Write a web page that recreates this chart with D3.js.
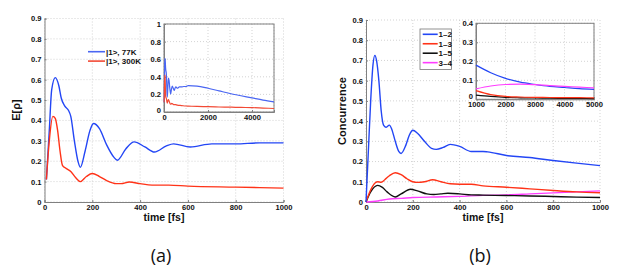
<!DOCTYPE html>
<html>
<head>
<meta charset="utf-8">
<script src="https://cdn.jsdelivr.net/npm/d3@7"></script>
<style>
body { margin: 0; background: #fff; }
svg text { font-family: "Liberation Sans", Arial, sans-serif; }
.tick text { font-weight: bold; font-size: 7.6px; fill: #111; }
</style>
</head>
<body>
<svg id="chart" width="620" height="273"></svg>
<script>
// panel (a): E[rho] vs time
const timeA = [8, 20, 30, 45, 60, 70, 85, 100, 110, 125, 140, 150, 170, 190, 205, 230, 260, 290, 305, 340, 375, 420, 460, 510, 540, 610, 700, 800, 900, 1000];
const blueA = [0.11, 0.35, 0.55, 0.61, 0.57, 0.51, 0.47, 0.45, 0.42, 0.30, 0.20, 0.17, 0.25, 0.35, 0.385, 0.36, 0.28, 0.22, 0.205, 0.26, 0.295, 0.27, 0.245, 0.275, 0.285, 0.27, 0.285, 0.285, 0.29, 0.29];
const timeA2 = [8, 20, 35, 45, 55, 65, 75, 90, 110, 130, 150, 175, 200, 230, 260, 300, 320, 355, 400, 450, 520, 600, 800, 1000];
const redA = [0.11, 0.30, 0.42, 0.41, 0.35, 0.25, 0.18, 0.165, 0.15, 0.12, 0.10, 0.125, 0.14, 0.125, 0.105, 0.09, 0.09, 0.098, 0.09, 0.083, 0.083, 0.078, 0.073, 0.068];
// inset (a) continuation past 1000 fs
const tailTimeA = [1100, 1500, 2000, 2500, 3000, 3500, 4000, 4500, 5000];
const tailBlueA = [0.30, 0.295, 0.27, 0.24, 0.21, 0.185, 0.16, 0.135, 0.115];
const tailRedA = [0.067, 0.063, 0.06, 0.057, 0.055, 0.052, 0.05, 0.045, 0.04];
const legendA = ["|1>, 77K", "|1>, 300K"];

// panel (b): concurrence vs time
const timeB = [0, 10, 20, 30, 38, 45, 55, 65, 75, 85, 100, 110, 125, 140, 150, 170, 185, 200, 220, 250, 280, 300, 330, 360, 400, 450, 500, 520, 600, 700, 800, 900, 1000];
const pair12 = [0, 0.25, 0.5, 0.68, 0.725, 0.70, 0.60, 0.45, 0.38, 0.37, 0.38, 0.36, 0.30, 0.25, 0.24, 0.28, 0.33, 0.355, 0.34, 0.30, 0.265, 0.26, 0.27, 0.285, 0.275, 0.25, 0.25, 0.248, 0.23, 0.22, 0.205, 0.192, 0.18];
const timeB13 = [0, 20, 40, 50, 65, 80, 100, 125, 150, 175, 200, 220, 250, 285, 320, 360, 400, 450, 500, 600, 700, 800, 900, 1000];
const pair13 = [0, 0.06, 0.095, 0.10, 0.098, 0.11, 0.13, 0.145, 0.135, 0.115, 0.10, 0.097, 0.10, 0.11, 0.10, 0.09, 0.088, 0.088, 0.08, 0.073, 0.065, 0.057, 0.05, 0.046];
const timeB15 = [0, 20, 50, 70, 90, 125, 150, 190, 220, 260, 290, 320, 350, 400, 450, 500, 600, 700, 800, 900, 1000];
const pair15 = [0, 0.05, 0.082, 0.072, 0.05, 0.025, 0.04, 0.063, 0.055, 0.04, 0.037, 0.04, 0.043, 0.04, 0.035, 0.034, 0.032, 0.03, 0.027, 0.024, 0.022];
const timeB34 = [0, 50, 100, 150, 200, 300, 400, 500, 600, 700, 800, 900, 1000];
const pair34 = [0, 0.005, 0.015, 0.018, 0.022, 0.025, 0.028, 0.033, 0.035, 0.04, 0.045, 0.05, 0.055];
// inset (b): 1000..5000 fs
const timeInsetB = [1000, 1500, 2000, 2500, 3000, 3500, 4000, 4500, 5000];
const inset12 = [0.18, 0.14, 0.11, 0.09, 0.078, 0.068, 0.062, 0.056, 0.052];
const inset13 = [0.046, 0.025, 0.015, 0.012, 0.01, 0.0095, 0.009, 0.0085, 0.008];
const inset15 = [0.022, 0.015, 0.01, 0.008, 0.007, 0.006, 0.005, 0.0045, 0.004];
const inset34 = [0.055, 0.07, 0.078, 0.08, 0.077, 0.072, 0.068, 0.064, 0.06];
const legendB = ["1\u20132", "1\u20133", "1\u20135", "3\u20134"];

const BLUE = "#2346f5", RED = "#ff3318", BLACK = "#111", MAGENTA = "#ff3cff";
const svg = d3.select("#chart");

const zip = (xs, ys) => xs.map((t, i) => [t, ys[i]]);

function panel(box, xDomain, yDomain, xTicks, yTicks, fmtY, opts) {
    const g = svg.append("g");
    const x = d3.scaleLinear().domain(xDomain).range([box.x0, box.x1]);
    const y = d3.scaleLinear().domain(yDomain).range([box.y1, box.y0]);
    if (opts.inset) {
        g.append("rect").attr("x", box.x0).attr("y", box.y0)
            .attr("width", box.x1 - box.x0).attr("height", box.y1 - box.y0)
            .attr("fill", "#fff");
    }
    // grid
    g.selectAll(".gx").data(xTicks).join("line")
        .attr("x1", d => x(d)).attr("x2", d => x(d)).attr("y1", box.y0).attr("y2", box.y1)
        .attr("stroke", "#c8c8c8").attr("stroke-dasharray", "1,2").attr("stroke-width", 0.8);
    g.selectAll(".gy").data(yTicks).join("line")
        .attr("y1", d => y(d)).attr("y2", d => y(d)).attr("x1", box.x0).attr("x2", box.x1)
        .attr("stroke", "#c8c8c8").attr("stroke-dasharray", "1,2").attr("stroke-width", 0.8);

    const ax = g.append("g").attr("transform", `translate(0,${box.y1})`)
        .call(d3.axisBottom(x).tickValues(opts.xLabelTicks || xTicks).tickSize(-2).tickPadding(2.5).tickFormat(d3.format("d")));
    const ay = g.append("g").attr("transform", `translate(${box.x0},0)`)
        .call(d3.axisLeft(y).tickValues(yTicks).tickSize(-2).tickPadding(3).tickFormat(fmtY));
    [ax, ay].forEach(a => {
        a.select(".domain").attr("stroke", "#808080");
        a.selectAll(".tick line").attr("stroke", "#808080");
    });
    if (opts.inset) {
        // lift the bottom "0" so it clears the first x label
        ay.selectAll(".tick text").filter(d => d === 0).attr("dy", opts.zeroDy || "0.1em");
        g.append("rect").attr("x", box.x0).attr("y", box.y0)
            .attr("width", box.x1 - box.x0).attr("height", box.y1 - box.y0)
            .attr("fill", "none").attr("stroke", "#808080").attr("stroke-width", 1);
    }
    const line = d3.line().x(d => x(d[0])).y(d => y(d[1])).curve(d3.curveMonotoneX);
    opts.series.forEach(s => {
        g.append("path").datum(s.pts).attr("d", line)
            .attr("fill", "none").attr("stroke", s.color).attr("stroke-width", opts.inset ? 1.2 : 1.4);
    });
    return g;
}

const fmtTenth = d => d === 0 ? "0" : d3.format(".1f")(d);
const fmtInset = d => d === 0 ? "0" : (d === 1 ? "1" : d3.format(".1f")(d));

// ---- panel (a)
panel({ x0: 44.5, x1: 283.5, y0: 18.5, y1: 202 }, [0, 1000], [0, 0.9],
    d3.range(0, 1001, 200), d3.range(0, 0.91, 0.1).map(v => +v.toFixed(1)), fmtTenth,
    { series: [{ pts: zip(timeA, blueA), color: BLUE }, { pts: zip(timeA2, redA), color: RED }] });

panel({ x0: 164, x1: 274, y0: 24, y1: 112 }, [0, 5000], [0, 1],
    [0, 1000, 2000, 3000, 4000, 5000], [0, 0.2, 0.4, 0.6, 0.8, 1], fmtInset,
    { inset: true, xLabelTicks: [0, 2000, 4000],
      series: [{ pts: zip(timeA, blueA).concat(zip(tailTimeA, tailBlueA)), color: "#4a66f2" },
               { pts: zip(timeA2, redA).concat(zip(tailTimeA, tailRedA)), color: "#f24a35" }] });

// legend (a)
const legA = svg.append("g");
[BLUE, RED].forEach((c, i) => {
    const yy = 51.7 + i * 9.4;
    legA.append("line").attr("x1", 88).attr("x2", 105).attr("y1", yy).attr("y2", yy)
        .attr("stroke", i === 0 ? "#4a66f2" : "#f24a35").attr("stroke-width", 1.6);
    legA.append("text").attr("x", 106).attr("y", yy + 3).attr("font-size", 8)
        .attr("font-weight", "bold").attr("fill", "#111").text(legendA[i]);
});

// ---- panel (b)
panel({ x0: 366, x1: 600, y0: 20, y1: 202 }, [0, 1000], [0, 0.9],
    d3.range(0, 1001, 200), d3.range(0, 0.91, 0.1).map(v => +v.toFixed(1)), fmtTenth,
    { series: [{ pts: zip(timeB34, pair34), color: MAGENTA },
               { pts: zip(timeB15, pair15), color: BLACK },
               { pts: zip(timeB13, pair13), color: RED },
               { pts: zip(timeB, pair12), color: BLUE }] });

panel({ x0: 476, x1: 594, y0: 23.3, y1: 99.3 }, [1000, 5000], [0, 0.4],
    [1000, 2000, 3000, 4000, 5000], [0, 0.1, 0.2, 0.3, 0.4], fmtTenth,
    { inset: true, zeroDy: "-0.15em",
      series: [{ pts: zip(timeInsetB, inset15), color: BLACK },
               { pts: zip(timeInsetB, inset13), color: RED },
               { pts: zip(timeInsetB, inset12), color: BLUE },
               { pts: zip(timeInsetB, inset34), color: MAGENTA }] });

// legend (b)
const legB = svg.append("g");
legB.append("rect").attr("x", 420).attr("y", 29).attr("width", 31.5).attr("height", 40.5)
    .attr("fill", "#fff").attr("stroke", "#777").attr("stroke-width", 0.8);
[BLUE, RED, BLACK, MAGENTA].forEach((c, i) => {
    const yy = 34.3 + i * 9.45;
    legB.append("line").attr("x1", 422.7).attr("x2", 437.7).attr("y1", yy).attr("y2", yy)
        .attr("stroke", c).attr("stroke-width", 1.6);
    legB.append("text").attr("x", 438.5).attr("y", yy + 3).attr("font-size", 8)
        .attr("font-weight", "bold").attr("fill", "#111").text(legendB[i]);
});

// axis titles
[[164, "(a)"], [483, "(b)"]].forEach(([cx, lab]) => {
    svg.append("text").attr("x", cx).attr("y", 221).attr("text-anchor", "middle")
        .attr("font-size", 10.5).attr("font-weight", "bold").attr("fill", "#111").text("time [fs]");
    svg.append("text").attr("x", cx - 3).attr("y", 262).attr("text-anchor", "middle")
        .attr("font-size", 18).attr("fill", "#111")
        .style("font-family", "'Open Sans', sans-serif").text(lab);
});
svg.append("text").attr("transform", "translate(20,110) rotate(-90)").attr("text-anchor", "middle")
    .attr("font-size", 11).attr("font-weight", "bold").attr("fill", "#111").text("E[\u03c1]");
svg.append("text").attr("transform", "translate(346,111) rotate(-90)").attr("text-anchor", "middle")
    .attr("font-size", 11).attr("font-weight", "bold").attr("fill", "#111").text("Concurrence");
</script>
</body>
</html>
